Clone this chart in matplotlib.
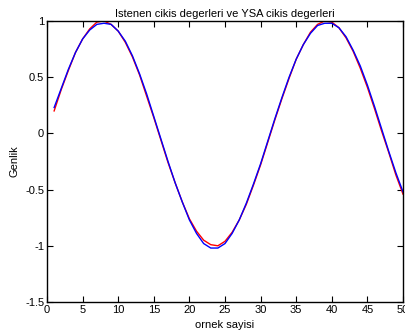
import numpy as np
import matplotlib
matplotlib.use("Agg")
import matplotlib.pyplot as plt

# Data (sample index 1..50)
ornek = list(range(1, 51))
istenen = [0.20, 0.39, 0.56, 0.72, 0.84, 0.93, 0.99, 1.00, 0.97, 0.91,
           0.81, 0.68, 0.52, 0.33, 0.14, -0.06, -0.26, -0.44, -0.61, -0.76,
           -0.87, -0.95, -0.99, -1.00, -0.96, -0.88, -0.77, -0.63, -0.46, -0.28,
           -0.08, 0.12, 0.31, 0.49, 0.66, 0.79, 0.90, 0.97, 1.00, 0.99,
           0.94, 0.85, 0.73, 0.58, 0.41, 0.22, 0.02, -0.17, -0.37, -0.54]
ysa = [0.23, 0.40, 0.57, 0.72, 0.84, 0.92, 0.97, 0.98, 0.97, 0.91,
       0.82, 0.69, 0.53, 0.35, 0.15, -0.05, -0.25, -0.44, -0.61, -0.77,
       -0.89, -0.98, -1.02, -1.02, -0.98, -0.89, -0.77, -0.62, -0.45, -0.27,
       -0.07, 0.13, 0.32, 0.50, 0.66, 0.79, 0.89, 0.96, 0.98, 0.98,
       0.94, 0.86, 0.74, 0.60, 0.43, 0.24, 0.04, -0.16, -0.35, -0.52]

plt.rcParams['font.family'] = ['Liberation Sans', 'DejaVu Sans']
fontl = 8

fig = plt.figure(figsize=(4.06, 3.36), dpi=100)
ax = fig.add_axes([0.1158, 0.1012, 0.8768, 0.8363])

ax.plot(ornek, istenen, '-', color='red', lw=1.0)
ax.plot(ornek, ysa, '-', color='blue', lw=1.0)

ax.set_xlim(0, 50)
ax.set_ylim(-1.5, 1)
ax.set_xticks(np.arange(0, 51, 5))
ax.set_yticks([-1.5, -1, -0.5, 0, 0.5, 1])
ax.set_yticklabels(['-1.5', '-1', '-0.5', '0', '0.5', '1'])
ax.tick_params(direction='in', top=True, right=True, length=4, width=0.8,
               labelsize=fontl, pad=2)
for s in ax.spines.values():
    s.set_linewidth(1.0)

ax.set_title('Istenen cikis degerleri ve YSA cikis degerleri', fontsize=fontl, pad=3)
ax.set_xlabel('ornek sayisi', fontsize=fontl, labelpad=4)
ax.set_ylabel('Genlik', fontsize=fontl, labelpad=4)

fig.savefig('out.png', dpi=100)
plt.close(fig)
